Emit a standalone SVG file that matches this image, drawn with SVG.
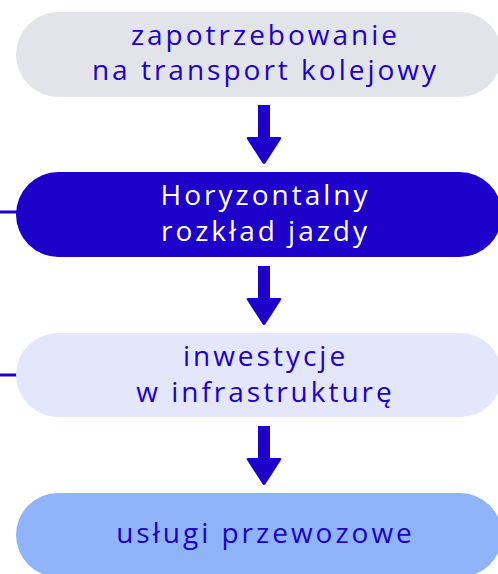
<svg xmlns="http://www.w3.org/2000/svg" width="498" height="574" viewBox="0 0 498 574">
<style>
.t{font-family:"Open Sans","Noto Sans",sans-serif;font-size:28px;font-weight:500;letter-spacing:3px;text-anchor:middle}
.dk{fill:#1d00c9}
.wt{fill:#ffffff}
</style>
<defs>
<path id="arr" d="M-6,0 H6 V32 H16 Q18,32 17,34 L1.5,58 Q0,60 -1.5,58 L-17,34 Q-18,32 -16,32 H-6 Z"/>
</defs>
<rect width="498" height="574" fill="#ffffff"/>
<g id="connectors" fill="#1d00c9">
<use href="#arr" x="264" y="105"/>
<use href="#arr" x="264" y="266"/>
<use href="#arr" x="264" y="426"/>
<rect x="0" y="210.5" width="18" height="3"/>
<rect x="0" y="373.5" width="18" height="3"/>
</g>
<g id="node1">
<rect x="16" y="12" width="486" height="85" rx="42.5" fill="#e3e4e9"/>
<text class="t dk" x="265.5" y="45">zapotrzebowanie</text>
<text class="t dk" x="265.5" y="80">na transport kolejowy</text>
</g>
<g id="node2">
<rect x="16" y="172" width="486" height="85" rx="42.5" fill="#1d00c9"/>
<text class="t wt" x="265.5" y="205">Horyzontalny</text>
<text class="t wt" x="265.5" y="241">rozkład jazdy</text>
</g>
<g id="node3">
<rect x="16" y="333" width="486" height="84" rx="42" fill="#e4e6fc"/>
<text class="t dk" x="265.5" y="366">inwestycje</text>
<text class="t dk" x="265.5" y="402">w infrastrukturę</text>
</g>
<g id="node4">
<rect x="16" y="493" width="486" height="84" rx="42" fill="#8fb4fa"/>
<text class="t dk" x="265.5" y="543">usługi przewozowe</text>
</g>
</svg>
